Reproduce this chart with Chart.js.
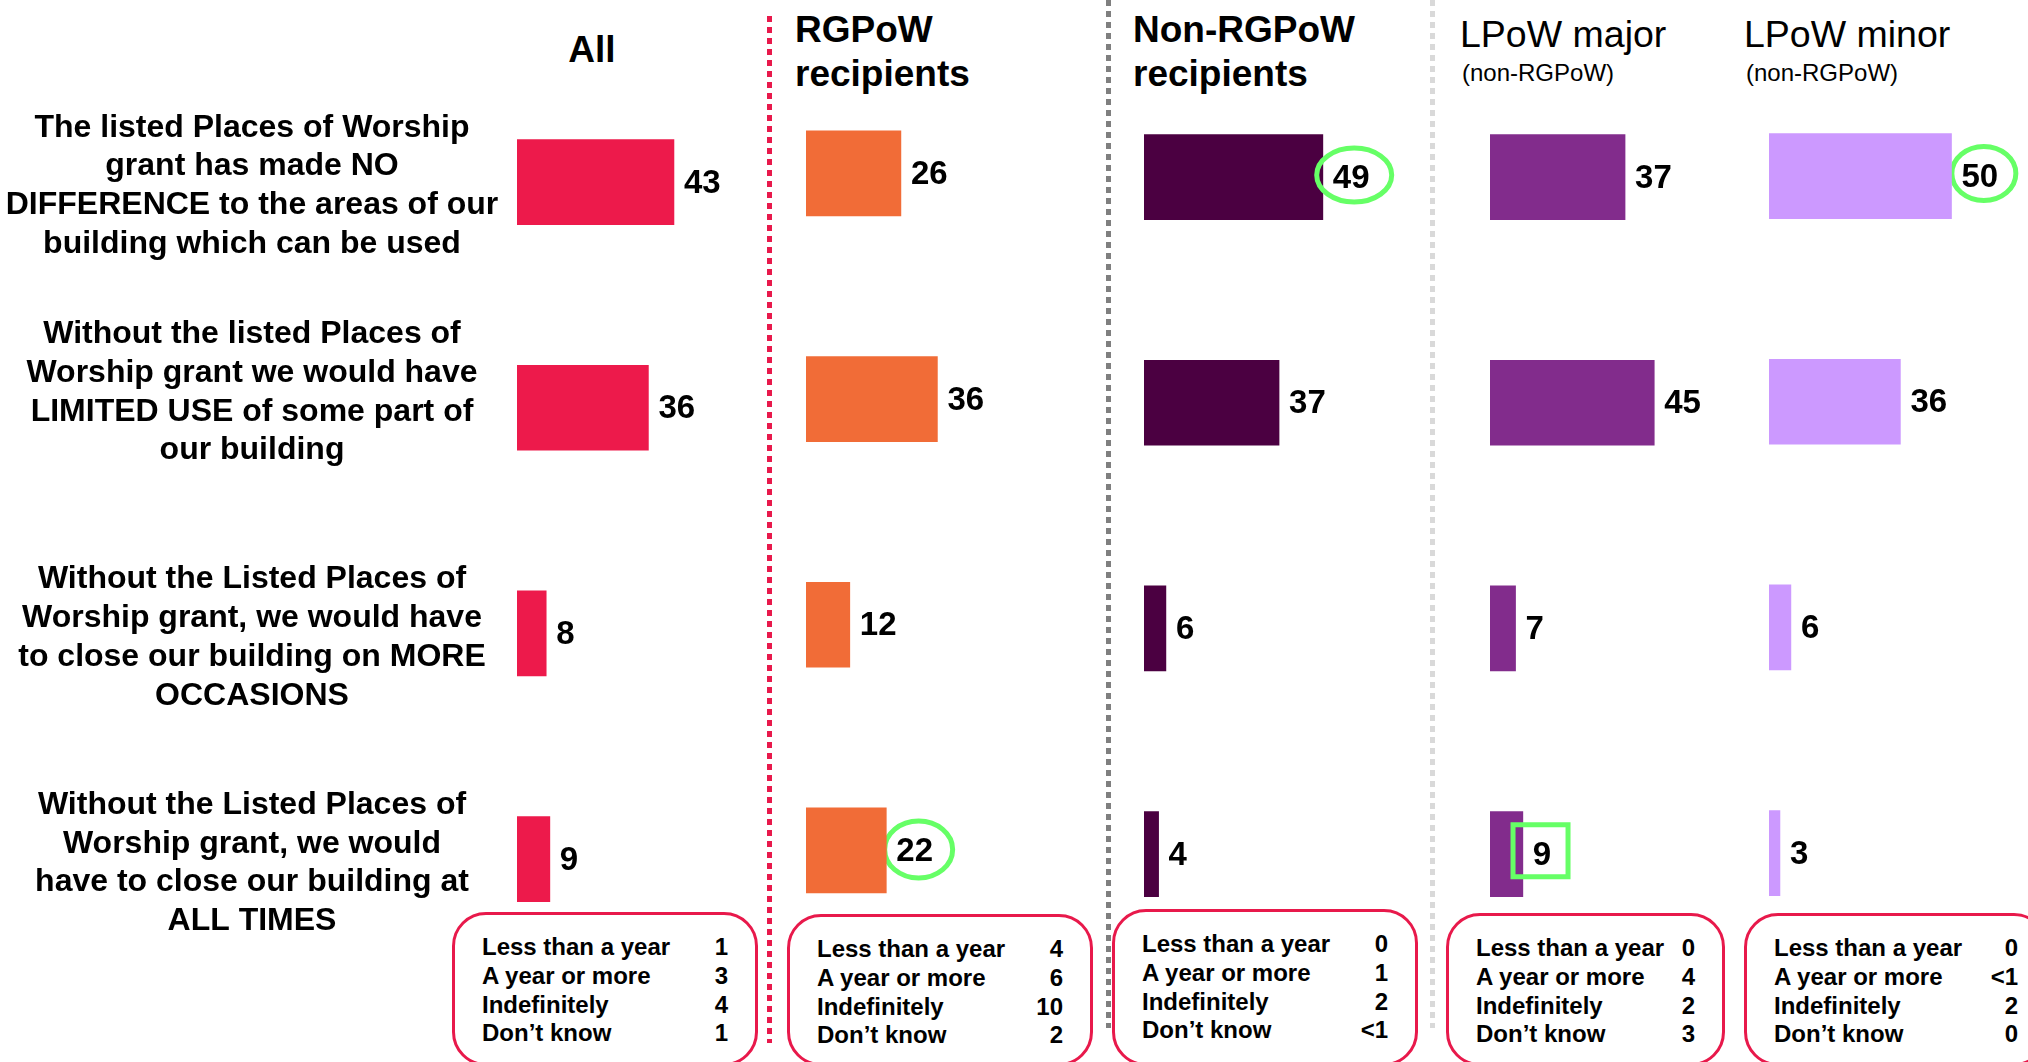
<!DOCTYPE html>
<html><head><meta charset="utf-8">
<script src="https://cdn.jsdelivr.net/npm/chart.js@4.4.1/dist/chart.umd.min.js"></script>
<style>
html,body{margin:0;padding:0;background:#fff;}
#stage{position:relative;width:2028px;height:1062px;overflow:hidden;font-family:'Liberation Sans',Arial,sans-serif;color:#000;background:#fff;}
canvas.layer{position:absolute;left:0;top:0;}
.t{position:absolute;white-space:nowrap;}
.sep{position:absolute;width:5px;}
.box{position:absolute;box-sizing:border-box;border:3px solid #E8194B;border-radius:34px;}
.line{position:absolute;left:27px;right:27px;display:flex;justify-content:space-between;font-weight:bold;font-size:24px;line-height:24px;white-space:nowrap;}
</style></head><body><div id="stage"></div>
<script>
// ---------------- DATA ----------------
const rowLabels = [
  ["The listed Places of Worship", "grant has made NO", "DIFFERENCE to the areas of our", "building which can be used"],
  ["Without the listed Places of", "Worship grant we would have", "LIMITED USE of some part of", "our building"],
  ["Without the Listed Places of", "Worship grant, we would have", "to close our building on MORE", "OCCASIONS"],
  ["Without the Listed Places of", "Worship grant, we would", "have to close our building at", "ALL TIMES"]
];
const groupTitles = [["All"], ["RGPoW", "recipients"], ["Non-RGPoW", "recipients"], ["LPoW major"], ["LPoW minor"]];
const groupSubtitles = ["", "", "", "(non-RGPoW)", "(non-RGPoW)"];

const valuesAll      = [43, 36, 8, 9];
const valuesRGPoW    = [26, 36, 12, 22];
const valuesNonRGPoW = [49, 37, 6, 4];
const valuesMajor    = [37, 45, 7, 9];
const valuesMinor    = [50, 36, 6, 3];

const durationLabels   = ["Less than a year", "A year or more", "Indefinitely", "Don\u2019t know"];
const durationAll      = ["1", "3", "4", "1"];
const durationRGPoW    = ["4", "6", "10", "2"];
const durationNonRGPoW = ["0", "1", "2", "<1"];
const durationMajor    = ["0", "4", "2", "3"];
const durationMinor    = ["0", "<1", "2", "0"];

// highlighted figures: group index, row index, shape
const highlights = [
  {group: 2, row: 0, shape: "ellipse"},
  {group: 4, row: 0, shape: "ellipse"},
  {group: 1, row: 3, shape: "ellipse"},
  {group: 3, row: 3, shape: "rect"}
];

// ---------------- LAYOUT / STYLE ----------------
const FONT = "'Liberation Sans', Arial, sans-serif";
const W = 2028, H = 1062;
const PX_PER_UNIT = 3.65, XMAX = 60, BAND = 225.7;
const seriesValues = [valuesAll, valuesRGPoW, valuesNonRGPoW, valuesMajor, valuesMinor];
const seriesDurations = [durationAll, durationRGPoW, durationNonRGPoW, durationMajor, durationMinor];
const panelLayout = [
  {left: 517,  top: 69.2, color: "#ED1A4B"},
  {left: 806,  top: 60.5, color: "#F16C37"},
  {left: 1144, top: 64.2, color: "#4B0041"},
  {left: 1490, top: 64.2, color: "#822C8C"},
  {left: 1769, top: 63.2, color: "#CC99FF"}
];
const headerLayout = [
  {x: 592,  align: "center", baselines: [62],     size: 37, weight: "bold"},
  {x: 795,  align: "left",   baselines: [42, 86], size: 37, weight: "bold"},
  {x: 1133, align: "left",   baselines: [42, 86], size: 37, weight: "bold"},
  {x: 1460, align: "left",   baselines: [48], size: 37.5, weight: "normal", subX: 1462, subBaseline: 81, subSize: 24},
  {x: 1744, align: "left",   baselines: [48], size: 37.5, weight: "normal", subX: 1746, subBaseline: 81, subSize: 24}
];
const boxLayout = [
  {left: 452,  right: 758,  top: 912},
  {left: 787,  right: 1093, top: 914},
  {left: 1112, right: 1418, top: 909},
  {left: 1446, right: 1725, top: 913},
  {left: 1744, right: 2048, top: 913}
];
const highlightStyle = [
  {rx: 37.5, ry: 27,   dx: 3,  dy: -2,   over: true},
  {rx: 32,   ry: 27,   dx: 4,  dy: -2.5, over: false},
  {rx: 34,   ry: 28.5, dx: 4,  dy: -1,   over: false},
  {w: 55,    h: 52,    dx: -1.5, dy: -3.5, over: true}
];
const GREEN = "#66FF66";
const ROW_FONT_SIZE = 32, ROW_LINE = 1.215, ROW_CENTER_X = 252, ROW_LABEL_SHIFT = 4;
const VALUE_LABEL_DY = 1.5;

const stage = document.getElementById("stage");

// separators
function addSep(x, top, height, color) {
  const d = document.createElement("div");
  d.className = "sep";
  d.style.left = (x - 2.5) + "px";
  d.style.top = top + "px";
  d.style.height = height + "px";
  d.style.background = `repeating-linear-gradient(to bottom, ${color} 0px, ${color} 6px, transparent 6px, transparent 11px)`;
  stage.appendChild(d);
}
addSep(769, 16, 1027, "#E8194B");
addSep(1108, 0, 1028, "#7F7F7F");
addSep(1432, 0, 1028, "#D9D9D9");

// header texts
function addText(txt, x, baseline, size, weight, align) {
  const d = document.createElement("div");
  d.className = "t";
  d.textContent = txt;
  d.style.fontSize = size + "px";
  d.style.fontWeight = weight;
  d.style.lineHeight = size + "px";
  d.style.top = (baseline - 0.8465 * size) + "px";
  if (align === "center") {
    d.style.left = (x - 300) + "px"; d.style.width = "600px"; d.style.textAlign = "center";
  } else {
    d.style.left = x + "px";
  }
  stage.appendChild(d);
}
groupTitles.forEach((lines, i) => {
  const hl = headerLayout[i];
  lines.forEach((ln, k) => addText(ln, hl.x, hl.baselines[k], hl.size, hl.weight, hl.align));
  if (groupSubtitles[i]) addText(groupSubtitles[i], hl.subX, hl.subBaseline, hl.subSize, "normal", "left");
});

// duration boxes
seriesDurations.forEach((vals, i) => {
  const b = boxLayout[i];
  const box = document.createElement("div");
  box.className = "box";
  box.style.left = b.left + "px";
  box.style.top = b.top + "px";
  box.style.width = (b.right - b.left) + "px";
  box.style.height = (1066 - b.top) + "px";
  durationLabels.forEach((lab, k) => {
    const baseline = 43.5 - 3 + k * 28.7;
    const ln = document.createElement("div");
    ln.className = "line";
    ln.style.top = (baseline - 0.8465 * 24) + "px";
    const a = document.createElement("span"); a.textContent = lab;
    const v = document.createElement("span"); v.textContent = vals[k];
    ln.appendChild(a); ln.appendChild(v);
    box.appendChild(ln);
  });
  stage.appendChild(box);
});

// row label tick lines (row 2 label sits a bit higher in the original)
const tickLabels = rowLabels.map((l, i) => i === 1 ? l.concat([""]) : l);
const mctx = document.createElement("canvas").getContext("2d");
mctx.font = `bold ${ROW_FONT_SIZE}px ${FONT}`;
let widest = 0;
rowLabels.forEach(l => l.forEach(s => { widest = Math.max(widest, mctx.measureText(s).width); }));
const tickPad = panelLayout[0].left - ROW_CENTER_X - widest / 2;

function drawHighlights(chart, group, over) {
  const ctx = chart.ctx;
  const meta = chart.getDatasetMeta(0);
  highlights.forEach((h, idx) => {
    if (h.group !== group) return;
    const st = highlightStyle[idx];
    if (!!st.over !== over) return;
    const bar = meta.data[h.row];
    ctx.save();
    ctx.font = `bold 33px ${FONT}`;
    const txt = String(chart.data.datasets[0].data[h.row]);
    const w = ctx.measureText(txt).width;
    const cx = bar.x + 10 + w / 2 + st.dx;
    const cy = bar.y + st.dy;
    ctx.strokeStyle = GREEN;
    ctx.lineWidth = 5;
    ctx.beginPath();
    if (h.shape === "ellipse") {
      ctx.ellipse(cx, cy, st.rx, st.ry, 0, 0, Math.PI * 2);
    } else {
      ctx.rect(cx - st.w / 2, cy - st.h / 2, st.w, st.h);
    }
    ctx.stroke();
    ctx.restore();
  });
}

function makePlugin(group) {
  return {
    id: "valueLabels" + group,
    beforeDatasetsDraw(chart) { drawHighlights(chart, group, false); },
    afterDatasetsDraw(chart) {
      drawHighlights(chart, group, true);
      const ctx = chart.ctx;
      const meta = chart.getDatasetMeta(0);
      ctx.save();
      ctx.font = `bold 33px ${FONT}`;
      ctx.fillStyle = "#000";
      ctx.textAlign = "left";
      ctx.textBaseline = "middle";
      meta.data.forEach((bar, i) => {
        ctx.fillText(String(chart.data.datasets[0].data[i]), bar.x + 10, bar.y + VALUE_LABEL_DY);
      });
      ctx.restore();
    }
  };
}

seriesValues.forEach((vals, i) => {
  const pl = panelLayout[i];
  const cv = document.createElement("canvas");
  cv.className = "layer";
  cv.width = W; cv.height = H;
  cv.style.width = W + "px"; cv.style.height = H + "px";
  stage.appendChild(cv);
  const yScale = {
    type: "category",
    display: i === 0,
    grid: { display: false, drawTicks: false },
    border: { display: false },
    ticks: {
      autoSkip: false,
      crossAlign: "center",
      padding: tickPad,
      labelOffset: ROW_LABEL_SHIFT,
      color: "#000",
      font: { family: FONT, size: ROW_FONT_SIZE, weight: "bold", lineHeight: ROW_LINE }
    }
  };
  if (i === 0) {
    yScale.afterFit = function (scale) {
      scale.width = pl.left;
      scale.paddingTop = 0;
      scale.paddingBottom = 0;
    };
  }
  new Chart(cv, {
    type: "bar",
    data: {
      labels: tickLabels,
      datasets: [{
        data: vals,
        backgroundColor: pl.color,
        borderWidth: 0,
        barThickness: 85
      }]
    },
    options: {
      indexAxis: "y",
      responsive: false,
      animation: false,
      devicePixelRatio: 1,
      events: [],
      layout: {
        padding: {
          left: i === 0 ? 0 : pl.left,
          right: W - pl.left - PX_PER_UNIT * XMAX,
          top: pl.top,
          bottom: H - pl.top - 4 * BAND
        }
      },
      plugins: { legend: { display: false }, tooltip: { enabled: false }, title: { display: false } },
      scales: {
        x: { type: "linear", min: 0, max: XMAX, display: false },
        y: yScale
      }
    },
    plugins: [makePlugin(i)]
  });
});
</script></body></html>
